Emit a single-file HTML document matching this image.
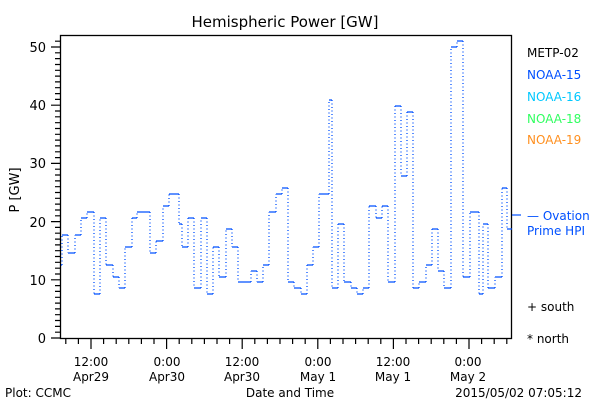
<!DOCTYPE html>
<html><head><style>
body{margin:0;background:#fff;}
svg{display:block;font-family:"DejaVu Sans","Liberation Sans",sans-serif;}
</style></head><body>
<svg width="600" height="400" xmlns="http://www.w3.org/2000/svg">
<rect width="600" height="400" fill="#fff"/>
<text x="285" y="27" font-size="15" text-anchor="middle">Hemispheric Power [GW]</text>
<rect x="60.5" y="35.5" width="451" height="303" fill="none" stroke="#000" stroke-width="1.3"/>
<path stroke="#000" stroke-width="1.2" fill="none" d="M60 338H51M60 332.2H55M60 326.4H55M60 320.5H55M60 314.7H55M60 308.9H55M60 303.1H55M60 297.3H55M60 291.4H55M60 285.6H55M60 279.8H51M60 274H55M60 268.2H55M60 262.3H55M60 256.5H55M60 250.7H55M60 244.9H55M60 239.1H55M60 233.2H55M60 227.4H55M60 221.6H51M60 215.8H55M60 210H55M60 204.1H55M60 198.3H55M60 192.5H55M60 186.7H55M60 180.9H55M60 175H55M60 169.2H55M60 163.4H51M60 157.6H55M60 151.8H55M60 145.9H55M60 140.1H55M60 134.3H55M60 128.5H55M60 122.7H55M60 116.8H55M60 111H55M60 105.2H51M60 99.4H55M60 93.6H55M60 87.7H55M60 81.9H55M60 76.1H55M60 70.3H55M60 64.5H55M60 58.6H55M60 52.8H55M60 47H51M60 41.2H55"/>
<path stroke="#000" stroke-width="1.2" fill="none" d="M65.8 339V344M78.4 339V344M91 339V349M103.6 339V344M116.2 339V344M128.8 339V344M141.4 339V344M154 339V344M166.6 339V349M179.2 339V344M191.8 339V344M204.4 339V344M217 339V344M229.6 339V344M242.2 339V349M254.8 339V344M267.4 339V344M280 339V344M292.6 339V344M305.2 339V344M317.8 339V349M330.4 339V344M343 339V344M355.6 339V344M368.2 339V344M380.8 339V344M393.4 339V349M406 339V344M418.6 339V344M431.2 339V344M443.8 339V344M456.4 339V344M469 339V349M481.6 339V344M494.2 339V344M506.8 339V344"/>
<g font-size="13" text-anchor="end">
<text x="46" y="343">0</text><text x="46" y="285">10</text><text x="46" y="227">20</text>
<text x="46" y="168">30</text><text x="46" y="110">40</text><text x="46" y="52">50</text>
</g>
<text transform="translate(19,190) rotate(-90)" font-size="13" text-anchor="middle">P [GW]</text>
<g font-size="12" text-anchor="middle">
<text x="91" y="366">12:00</text><text x="91" y="381">Apr29</text>
<text x="167" y="366">0:00</text><text x="167" y="381">Apr30</text>
<text x="242" y="366">12:00</text><text x="242" y="381">Apr30</text>
<text x="318" y="366">0:00</text><text x="318" y="381">May 1</text>
<text x="393" y="366">12:00</text><text x="393" y="381">May 1</text>
<text x="468" y="366">0:00</text><text x="468" y="381">May 2</text>
<text x="290" y="397">Date and Time</text>
</g>
<text x="5" y="397" font-size="12">Plot: CCMC</text>
<text x="582" y="397" font-size="12" text-anchor="end">2015/05/02 07:05:12</text>
<g font-size="12">
<text x="527" y="57">METP-02</text>
<text x="527" y="79" fill="#0050ff">NOAA-15</text>
<text x="527" y="101" fill="#00c8ff">NOAA-16</text>
<text x="527" y="123" fill="#30ff60">NOAA-18</text>
<text x="527" y="144" fill="#ff9020">NOAA-19</text>
<text x="527" y="220" fill="#0050ff">— Ovation</text>
<text x="527" y="235" fill="#0050ff">Prime HPI</text>
<text x="527" y="311">+ south</text>
<text x="527" y="343">* north</text>
</g>
<line x1="512" y1="215" x2="521" y2="215" stroke="#0050ff" stroke-width="1.2"/>
<path stroke="#0050ff" stroke-width="1.3" fill="none" d="M61 265H62M62 235H68M68 253H75M75 235H81M81 218H87M87 212H94M94 294H100M100 218H106M106 265H113M113 277H119M119 288H125M125 247H132M132 218H137M137 212H150M150 253H156M156 241H163M163 206H169M169 194H179M179 224H182M182 247H188M188 218H194M194 288H201M201 218H207M207 294H213M213 247H219M219 277H226M226 229H232M232 247H238M238 282H251M251 271H257M257 282H263M263 265H269M269 212H276M276 194H282M282 188H288M288 282H294M294 288H301M301 294H307M307 265H313M313 247H319M319 194H329M329 100H332M332 288H338M338 224H344M344 282H351M351 288H357M357 294H363M363 288H369M369 206H376M376 218H382M382 206H388M388 282H395M395 106H401M401 176H407M407 112H413M413 288H419M419 282H426M426 265H432M432 229H438M438 271H444M444 288H451M451 47H457M457 41H463M463 277H470M470 212H479M479 294H483M483 224H488M488 288H495M495 277H502M502 188H507M507 229H512"/>
<path stroke="#0050ff" stroke-width="1.3" fill="none" stroke-dasharray="1 2.5" d="M62 265V235M68 235V253M75 253V235M81 235V218M87 218V212M94 212V294M100 294V218M106 218V265M113 265V277M119 277V288M125 288V247M132 247V218M137 218V212M150 212V253M156 253V241M163 241V206M169 206V194M179 194V224M182 224V247M188 247V218M194 218V288M201 288V218M207 218V294M213 294V247M219 247V277M226 277V229M232 229V247M238 247V282M251 282V271M257 271V282M263 282V265M269 265V212M276 212V194M282 194V188M288 188V282M294 282V288M301 288V294M307 294V265M313 265V247M319 247V194M329 194V100M332 100V288M338 288V224M344 224V282M351 282V288M357 288V294M363 294V288M369 288V206M376 206V218M382 218V206M388 206V282M395 282V106M401 106V176M407 176V112M413 112V288M419 288V282M426 282V265M432 265V229M438 229V271M444 271V288M451 288V47M457 47V41M463 41V277M470 277V212M479 212V294M483 294V224M488 224V288M495 288V277M502 277V188M507 188V229"/>
</svg>
</body></html>
